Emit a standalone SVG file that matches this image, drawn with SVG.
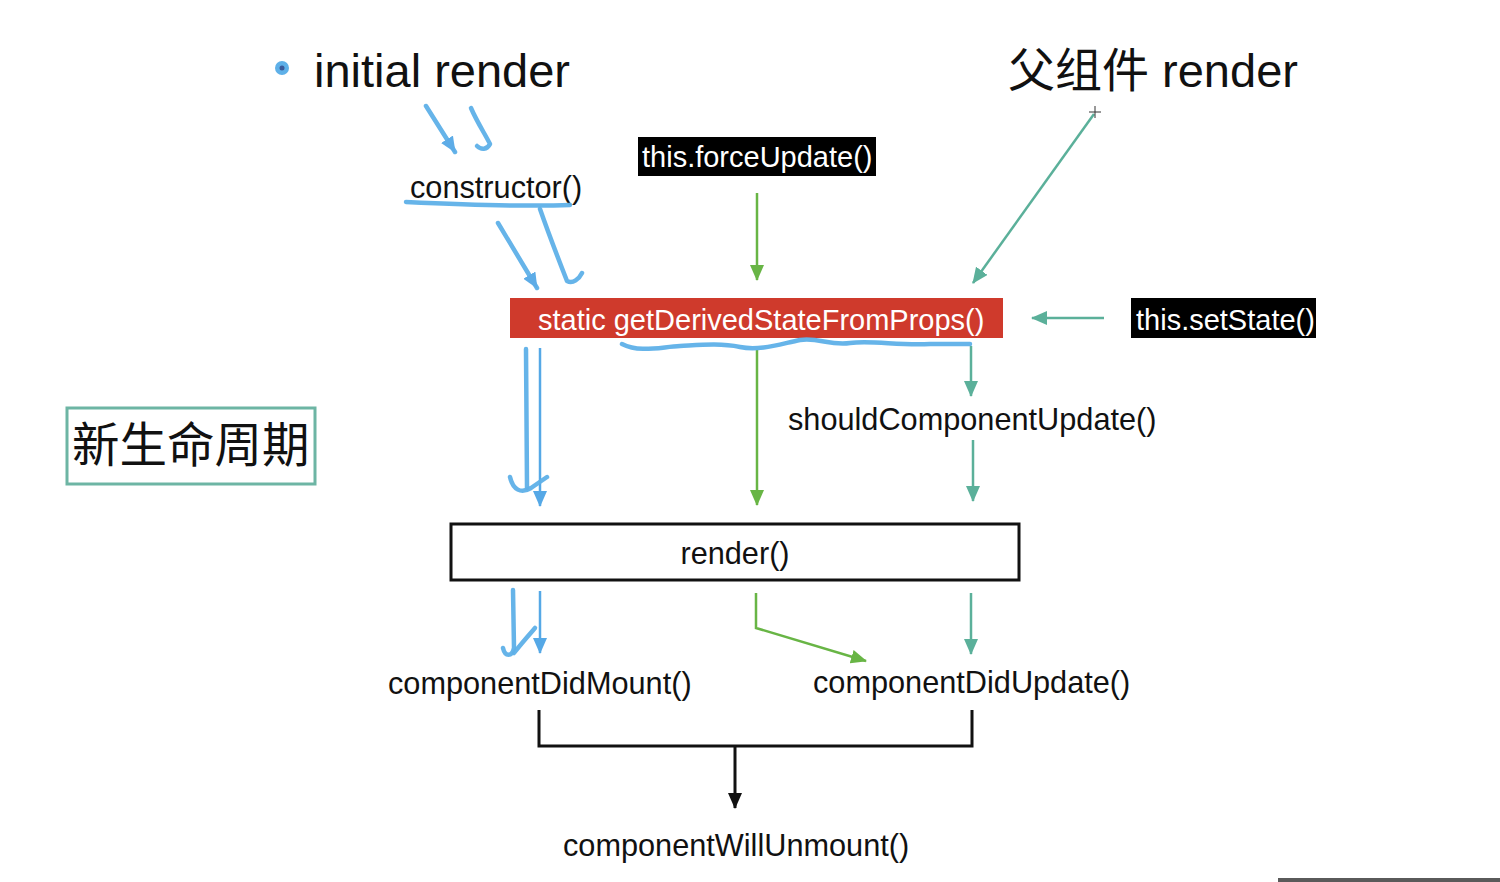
<svg xmlns="http://www.w3.org/2000/svg" width="1500" height="882" viewBox="0 0 1500 882">
<style>
  text { font-family: "Liberation Sans", Arial, "Noto Sans CJK SC", sans-serif; fill: #111; }
  .big { font-size: 47px; }
  .mid { font-size: 30.7px; }
  .inv { fill: #fff; font-size: 29px; }
  .cjk { font-family: "Noto Sans CJK SC", "Liberation Sans", sans-serif; }
  .green { stroke: #68b545; stroke-width: 2.5; fill: none; }
  .teal { stroke: #5bb09a; stroke-width: 2.5; fill: none; }
  .black { stroke: #111; stroke-width: 3; fill: none; }
  .blue { stroke: #55a8e6; stroke-width: 2.5; fill: none; }
  .hand { stroke: #5eb0e8; stroke-width: 4.5; fill: none; stroke-linecap: round; stroke-linejoin: round; opacity: 0.95; }
</style>
<defs>
  <marker id="ag" markerUnits="userSpaceOnUse" markerWidth="16" markerHeight="14" refX="15" refY="7" orient="auto"><path d="M0,0 L16,7 L0,14 z" fill="#68b545"/></marker>
  <marker id="at" markerUnits="userSpaceOnUse" markerWidth="16" markerHeight="14" refX="15" refY="7" orient="auto"><path d="M0,0 L16,7 L0,14 z" fill="#5bb09a"/></marker>
  <marker id="ak" markerUnits="userSpaceOnUse" markerWidth="16" markerHeight="14" refX="15" refY="7" orient="auto"><path d="M0,0 L16,7 L0,14 z" fill="#111"/></marker>
  <marker id="ab" markerUnits="userSpaceOnUse" markerWidth="16" markerHeight="14" refX="15" refY="7" orient="auto"><path d="M0,0 L16,7 L0,14 z" fill="#55a8e6"/></marker>
</defs>
<rect width="1500" height="882" fill="#fff"/>

<g id="initial-render">
  <circle cx="282" cy="68" r="7" fill="#5eb0e8"/>
  <circle cx="282" cy="68" r="2.5" fill="#3a5a9a"/>
  <text class="big" x="314" y="87">initial render</text>
</g>
<g id="parent-render">
  <text class="big" x="1008" y="87"><tspan class="cjk">父组件</tspan> render</text>
</g>
<g id="constructor">
  <text class="mid" x="410" y="198">constructor()</text>
</g>
<g id="force-update">
  <rect x="638" y="137" width="238" height="39" fill="#000"/>
  <text class="inv" x="642" y="167">this.forceUpdate()</text>
</g>
<g id="gdsfp">
  <rect x="510" y="298" width="493" height="40" fill="#cf3a2c"/>
  <text class="inv" x="538" y="330">static getDerivedStateFromProps()</text>
</g>
<g id="set-state">
  <rect x="1131" y="298" width="185" height="40" fill="#000"/>
  <text class="inv" x="1136" y="330">this.setState()</text>
</g>
<g id="should-update">
  <text class="mid" x="788" y="430">shouldComponentUpdate()</text>
</g>
<g id="new-lifecycle">
  <rect x="67" y="408" width="248" height="76" fill="none" stroke="#6db5a4" stroke-width="3"/>
  <text class="cjk" x="72" y="462" font-size="47.5">新生命周期</text>
</g>
<g id="render">
  <rect x="451" y="524" width="568" height="56" fill="#fff" stroke="#111" stroke-width="3"/>
  <text class="mid" x="735" y="564" text-anchor="middle">render()</text>
</g>
<g id="did-mount">
  <text class="mid" x="388" y="694">componentDidMount()</text>
</g>
<g id="did-update">
  <text class="mid" x="813" y="693">componentDidUpdate()</text>
</g>
<g id="will-unmount">
  <text class="mid" x="563" y="856">componentWillUnmount()</text>
</g>

<g id="connectors">
  <line class="green" x1="757" y1="193" x2="757" y2="280" marker-end="url(#ag)"/>
  <line class="teal" x1="1094" y1="114" x2="973" y2="283" marker-end="url(#at)"/>
  <line class="teal" x1="1104" y1="318" x2="1032" y2="318" marker-end="url(#at)"/>
  <line class="blue" x1="540" y1="348" x2="540" y2="506" marker-end="url(#ab)"/>
  <line class="green" x1="757" y1="350" x2="757" y2="505" marker-end="url(#ag)"/>
  <line class="teal" x1="971" y1="346" x2="971" y2="396" marker-end="url(#at)"/>
  <line class="teal" x1="973" y1="440" x2="973" y2="501" marker-end="url(#at)"/>
  <line class="blue" x1="540" y1="591" x2="540" y2="653" marker-end="url(#ab)"/>
  <polyline class="green" points="756,593 756,628 866,661" marker-end="url(#ag)"/>
  <line class="teal" x1="971" y1="593" x2="971" y2="654" marker-end="url(#at)"/>
  <polyline class="black" points="539,710 539,746 972,746 972,710"/>
  <line class="black" x1="735" y1="746" x2="735" y2="808" marker-end="url(#ak)"/>
</g>

<g id="annotations">
  <line class="hand" x1="426" y1="106" x2="455" y2="152" stroke-width="3" marker-end="url(#ab)"/>
  <path class="hand" d="M471,108 C477,122 485,134 490,144 C487,150 481,150 477,146"/>
  <path class="hand" d="M406,202 C450,204 520,207 570,205"/>
  <line class="hand" x1="498" y1="223" x2="537" y2="288" stroke-width="3" marker-end="url(#ab)"/>
  <path class="hand" d="M540,209 C548,232 558,258 567,281 C573,284 579,279 582,273"/>
  <path class="hand" d="M622,344 C640,353 660,347 680,346 C700,345 720,343 740,347 C760,351 780,344 800,340 C818,337 830,346 850,343 C872,340 900,346 930,344 L970,344"/>
  <path class="hand" d="M526,349 L527,488"/>
  <path class="hand" d="M510,477 C513,490 521,494 531,488 L547,477"/>
  <path class="hand" d="M513,590 L514,648 C512,657 505,657 503,648"/>
  <path class="hand" d="M514,653 C520,645 528,636 535,628"/>
</g>

<g id="cursor" stroke="#333" stroke-width="1">
  <line x1="1089" y1="112" x2="1101" y2="112"/>
  <line x1="1095" y1="106" x2="1095" y2="118"/>
</g>
<rect x="1278" y="878" width="222" height="4" fill="#5a5a5a"/>
</svg>
